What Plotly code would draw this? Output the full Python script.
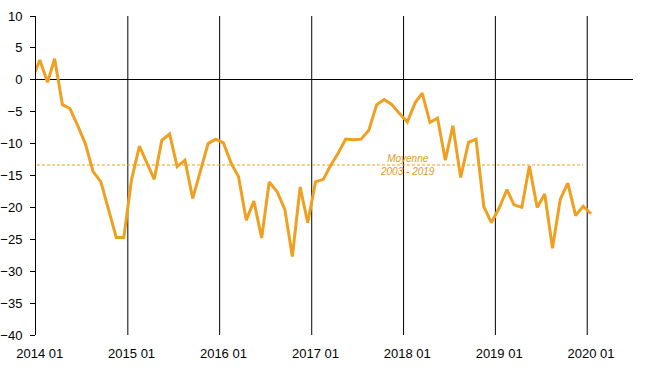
import pandas as pd
import plotly.graph_objects as go

# Monthly values, Dec 2013 .. Jan 2020
months = pd.period_range("2013-12", "2020-01", freq="M").strftime("%Y-%m").tolist()
values = [
    0.0,                                                                  # 2013-12
    3.1, -0.4, 3.3, -3.9, -4.5, -7.2, -10.0, -14.4, -16.0, -20.3, -24.7, -24.7,  # 2014
    -15.6, -10.4, -13.0, -15.6, -9.5, -8.5, -13.6, -12.6, -18.6, -14.5, -10.0, -9.3,  # 2015
    -9.9, -13.1, -15.2, -22.0, -19.0, -24.8, -16.0, -17.5, -20.3, -27.7, -16.8, -22.4,  # 2016
    -16.0, -15.6, -13.5, -11.5, -9.3, -9.4, -9.3, -7.9, -3.9, -3.1, -3.9, -5.3,  # 2017
    -6.6, -3.6, -2.1, -6.7, -6.0, -12.6, -7.2, -15.3, -9.8, -9.3, -19.9, -22.4,  # 2018
    -20.1, -17.2, -19.6, -20.0, -13.5, -20.0, -17.9, -26.4, -18.7, -16.2, -21.3, -19.8,  # 2019
    -21.0,                                                                # 2020-01
]
mean_value = -13.35
mean_months = months[:-1]  # Dec 2013 .. Dec 2019
mean_label = "<i>Moyenne<br>2003 - 2019</i>"

year_labels = ["2014 01", "2015 01", "2016 01", "2017 01", "2018 01", "2019 01", "2020 01"]
year_starts = ["2015-01-01", "2016-01-01", "2017-01-01", "2018-01-01", "2019-01-01", "2020-01-01"]

ORANGE = "#F0A020"


def mid(m):
    return pd.Timestamp(m + "-01") + pd.Timedelta(days=15)


x = [mid(m) for m in months]
xm = [mid(m) for m in mean_months]
tickvals = [mid(l[:4] + "-01") for l in year_labels]

fig = go.Figure()
fig.add_trace(go.Scatter(x=xm, y=[mean_value] * len(xm), mode="lines",
                         line=dict(color="#E8A020", width=1, dash="3px,2px"),
                         hoverinfo="skip", showlegend=False))
fig.add_trace(go.Scatter(x=x, y=values, mode="lines",
                         line=dict(color=ORANGE, width=3),
                         showlegend=False))

for ys in year_starts:
    fig.add_shape(type="line", xref="x", yref="y", x0=ys, x1=ys, y0=-40, y1=10,
                  line=dict(color="black", width=1), layer="below")

fig.add_annotation(x=mid("2018-01"), y=mean_value, text=mean_label, showarrow=False,
                   font=dict(family="Liberation Sans, Arial", size=10, color="#E09A20"),
                   xanchor="center", yanchor="middle", yshift=0)

fig.update_layout(
    width=661, height=379,
    margin=dict(l=36, r=28, t=16, b=44),
    paper_bgcolor="white", plot_bgcolor="white",
    font=dict(family="Liberation Sans, Arial", size=13, color="black"),
    xaxis=dict(type="date", range=["2014-01-01", "2020-07-01"],
               tickvals=tickvals, ticktext=year_labels, automargin=False,
               showgrid=False, zeroline=False, showline=False, ticks="",
               tickfont=dict(size=13), ticklabelstandoff=9),
    yaxis=dict(range=[-40, 10], dtick=5, tick0=0, automargin=False,
               showgrid=False, zeroline=True, zerolinecolor="black", zerolinewidth=1,
               showline=True, linecolor="black", linewidth=1,
               ticks="outside", ticklen=5, tickcolor="black", tickwidth=1,
               tickfont=dict(size=13), ticklabelstandoff=5),
)

fig.write_html("out.html", config={"displayModeBar": False},
               post_script="document.body.style.margin='0';")
